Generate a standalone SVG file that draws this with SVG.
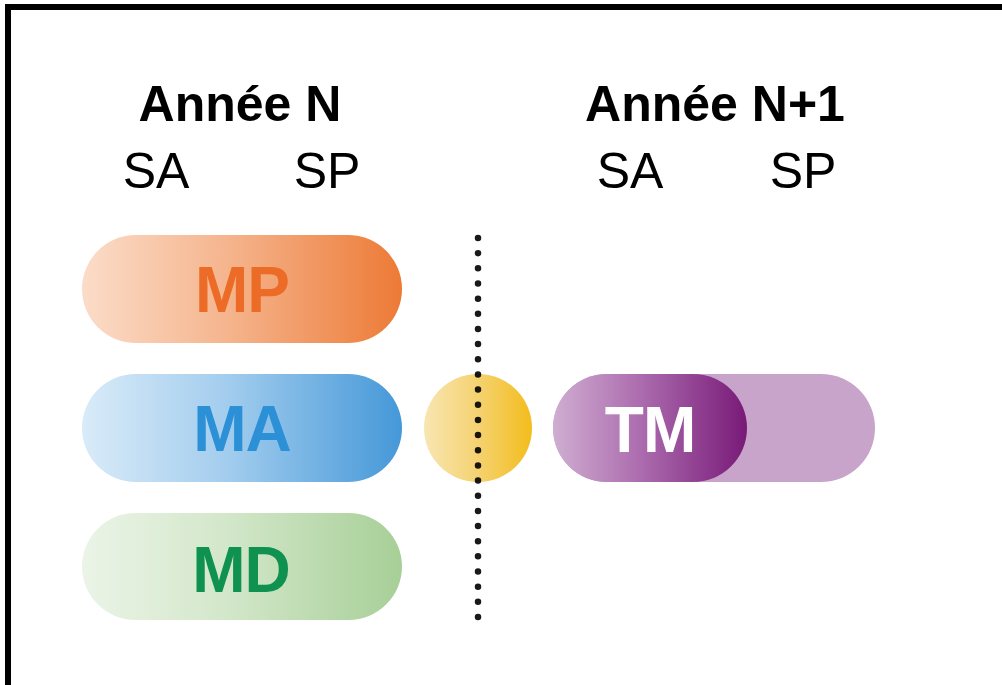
<svg xmlns="http://www.w3.org/2000/svg" width="1002" height="685" viewBox="0 0 1002 685">
<defs>
<style>
.h{font-family:"Liberation Sans",Arial,sans-serif;font-weight:bold;font-size:50px;fill:#000;text-anchor:middle}
.s{font-family:"Liberation Sans",Arial,sans-serif;font-size:50px;fill:#000;text-anchor:middle}
.p{font-family:"Liberation Sans",Arial,sans-serif;font-weight:bold;font-size:64px;text-anchor:middle;letter-spacing:-1px}
</style>
<linearGradient id="gMP" x1="0" x2="1" y1="0" y2="0">
<stop offset="0" stop-color="#fbdcc8"/><stop offset="0.45" stop-color="#f5b58e"/><stop offset="1" stop-color="#ed7a36"/>
</linearGradient>
<linearGradient id="gMA" x1="0" x2="1" y1="0" y2="0">
<stop offset="0" stop-color="#d9ebf8"/><stop offset="0.45" stop-color="#a3cdee"/><stop offset="1" stop-color="#4598d8"/>
</linearGradient>
<linearGradient id="gMD" x1="0" x2="1" y1="0" y2="0">
<stop offset="0" stop-color="#ebf4e7"/><stop offset="0.45" stop-color="#d3e7ca"/><stop offset="1" stop-color="#a7cf97"/>
</linearGradient>
<linearGradient id="gY" x1="0" x2="1" y1="0" y2="0">
<stop offset="0" stop-color="#f8e6b2"/><stop offset="0.5" stop-color="#f5d271"/><stop offset="1" stop-color="#f3bd1c"/>
</linearGradient>
<linearGradient id="gTM" x1="0" x2="1" y1="0" y2="0">
<stop offset="0" stop-color="#cfadd1"/><stop offset="0.45" stop-color="#ac6cae"/><stop offset="1" stop-color="#781a78"/>
</linearGradient>
</defs>
<rect width="1002" height="685" fill="#fff"/>
<path d="M8 685 V7 H1002" fill="none" stroke="#000" stroke-width="6"/>
<g id="header-n">
<text class="h" x="240" y="121">Année N</text>
<text class="s" x="156" y="188">SA</text>
<text class="s" x="327" y="188">SP</text>
</g>
<g id="header-n1">
<text class="h" x="715" y="121">Année N+1</text>
<text class="s" x="630" y="188">SA</text>
<text class="s" x="803" y="188">SP</text>
</g>
<g id="node-mp">
<rect x="82" y="235" width="320" height="108" rx="54" fill="url(#gMP)"/>
<text class="p" x="242" y="312" fill="#ec6b26">MP</text>
</g>
<g id="node-ma">
<rect x="82" y="374" width="320" height="108" rx="54" fill="url(#gMA)"/>
<text class="p" x="242" y="451" fill="#2b90d5">MA</text>
</g>
<g id="node-md">
<rect x="82" y="513" width="320" height="107" rx="53.5" fill="url(#gMD)"/>
<text class="p" x="241" y="592" fill="#0f9150">MD</text>
</g>
<g id="node-circle">
<circle cx="478" cy="428" r="54" fill="url(#gY)"/>
</g>
<g id="node-tm">
<rect x="553" y="374" width="322" height="108" rx="54" fill="#c8a4ca"/>
<rect x="553" y="374" width="194" height="108" rx="54" fill="url(#gTM)"/>
<text class="p" x="650" y="452" fill="#fff">TM</text>
</g>
<g id="connectors">
<line x1="478" y1="238" x2="478" y2="617" stroke="#000" stroke-opacity="0.9" stroke-width="6.5" stroke-linecap="round" stroke-dasharray="0 15.16"/>
</g>
</svg>
